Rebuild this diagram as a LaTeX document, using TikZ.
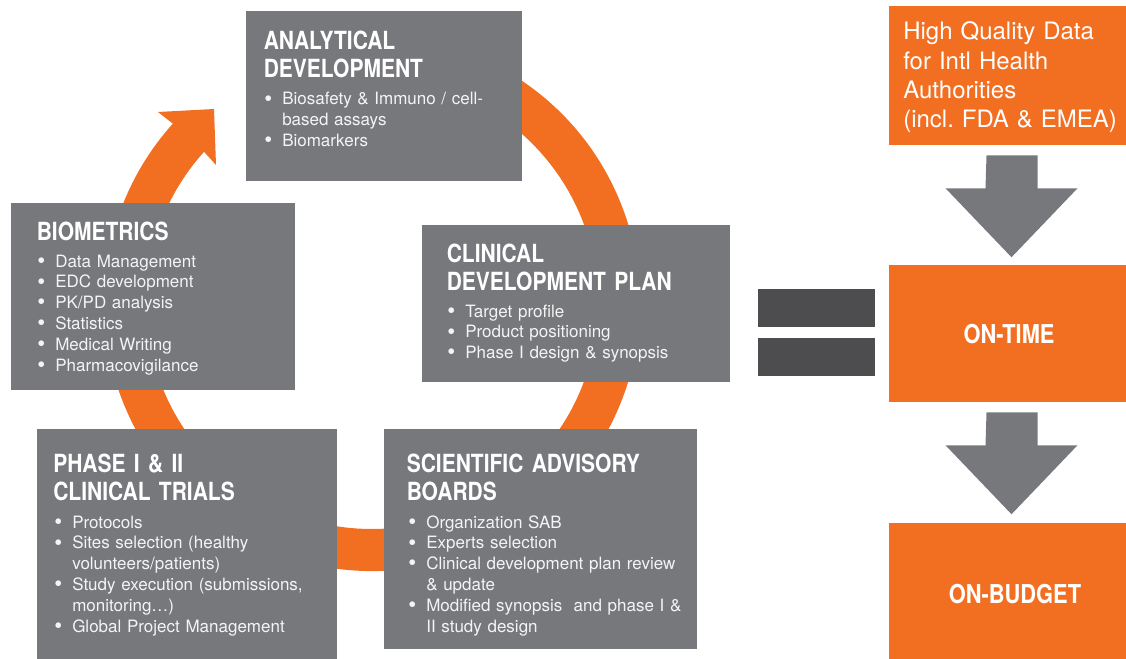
\documentclass[tikz,border=0pt]{standalone}
\usepackage{fontspec}
\setmainfont{TeX Gyre Heros}
\newfontfamily\titlefont{TeX Gyre Heros}[FakeStretch=0.84]
\usetikzlibrary{calc,fit}
\definecolor{boxgray}{RGB}{119,120,124}
\definecolor{orng}{RGB}{242,111,33}
\definecolor{darkbar}{RGB}{77,77,79}
\definecolor{txt}{RGB}{244,244,244}
\newcommand\blt[1]{\noindent\hangindent=13.5pt\hangafter=1\makebox[13.5pt][l]{\raisebox{-0.9pt}{\fontsize{17pt}{17pt}\selectfont\textbullet}}#1\par}
\tikzset{
  gbox/.style={fill=boxgray, draw=none, inner sep=0pt},
  obox/.style={fill=orng, draw=none, inner sep=0pt},
  eqbar/.style={fill=darkbar, draw=none, inner sep=0pt},
  ttl/.style={anchor=base west, inner sep=0pt, text=white, align=left, text width=#1,
    font=\titlefont\bfseries\fontsize{18.75pt}{21pt}\selectfont},
  ttl/.default=220pt,
  blist/.style={anchor=base west, inner sep=0pt, text=txt, align=left, text width=#1,
    font=\fontsize{12.75pt}{15.6pt}\selectfont},
  blist/.default=200pt,
  otxt/.style={anchor=base west, inner sep=0pt, text=white, align=left, text width=#1,
    font=\fontsize{18pt}{22pt}\selectfont},
  otxt/.default=170pt,
  bigtxt/.style={inner sep=0pt, text=white, font=\titlefont\bfseries\fontsize{19.5pt}{21pt}\selectfont},
}
\begin{document}
\begin{tikzpicture}[x=0.75pt, y=-0.75pt]
\useasboundingbox (0,0) rectangle (1126,659);
% orange cycle ring with arrow head
\coordinate (c) at (372,303);
\fill[orng] ($(c)+(248:268)$) arc[start angle=248, end angle=582, radius=268]
  -- (158,112) -- (214,109) -- (216,165)
  -- ($(c)+(222:226)$) arc[start angle=222, end angle=-112, radius=226] -- cycle;

% grey boxes
\node[gbox, fit={(246,11) (522,181)}] (ana) {};
\node[ttl] (anaT) at (263.5,50) {ANALYTICAL\\DEVELOPMENT};
\node[blist=190pt] (anaL) at (264,105) {\blt{Biosafety \& Immuno / cell-\newline based assays}\blt{Biomarkers}};

\node[gbox, fit={(11,203) (295,390)}] (bio) {};
\node[ttl] (bioT) at (36.5,240) {BIOMETRICS};
\node[blist=200pt] (bioL) at (37,267) {\blt{Data Management}\blt{EDC development}\blt{PK/PD analysis}\blt{Statistics}\blt{Medical Writing}\blt{Pharmacovigilance}};

\node[gbox, fit={(422,225) (730,382)}] (cdp) {};
\node[ttl] (cdpT) at (446.5,262) {CLINICAL\\DEVELOPMENT PLAN};
\node[blist=200pt] (cdpL) at (447,317) {\blt{Target profile}\blt{Product positioning}\blt{Phase I design \& synopsis}};

\node[gbox, fit={(37,429) (337,659)}] (ph) {};
\node[ttl] (phT) at (53,472) {PHASE I \& II\\CLINICAL TRIALS};
\node[blist=215pt] (phL) at (54,528) {\blt{Protocols}\blt{Sites selection (healthy\newline volunteers/patients)}\blt{Study execution (submissions,\newline monitoring…)}\blt{Global Project Management}};

\node[gbox, fit={(384,429) (697,649)}] (sab) {};
\node[ttl] (sabT) at (406.5,472) {SCIENTIFIC ADVISORY\\BOARDS};
\node[blist=215pt] (sabL) at (408,528) {\blt{Organization SAB}\blt{Experts selection}\blt{Clinical development plan review\newline \& update}\blt{Modified synopsis\ \ and phase I \&\newline II study design}};

% equals sign
\node[eqbar, fit={(758,289) (875,326.5)}] (eq1) {};
\node[eqbar, fit={(758,338) (875,375.5)}] (eq2) {};

% right column
\node[obox, fit={(889,6) (1126,145)}] (hq) {};
\node[otxt] (hqT) at (903,40) {High Quality Data\\for Intl Health\\Authorities\\(incl.\ FDA \& EMEA)};
\node[obox, fit={(889,265) (1126,402)}] (ot) {};
\node[bigtxt] (otT) at (1009,334) {ON-TIME};
\node[obox, fit={(889,523) (1126,659)}] (ob) {};
\node[bigtxt] (obT) at (1015,594) {ON-BUDGET};

% block arrows
\coordinate (a1) at ($(hq.south)+(4.5,10)$);
\coordinate (a2) at ($(ot.south)+(4.5,10)$);
\foreach \a in {a1,a2}{
  \fill[boxgray] (\a) ++(-25.5,0) -- ++(51,0) -- ++(0,33) -- ++(40,0) -- ++(-66,69) -- ++(-66,-69) -- ++(40,0) -- cycle;
}
\end{tikzpicture}
\end{document}
